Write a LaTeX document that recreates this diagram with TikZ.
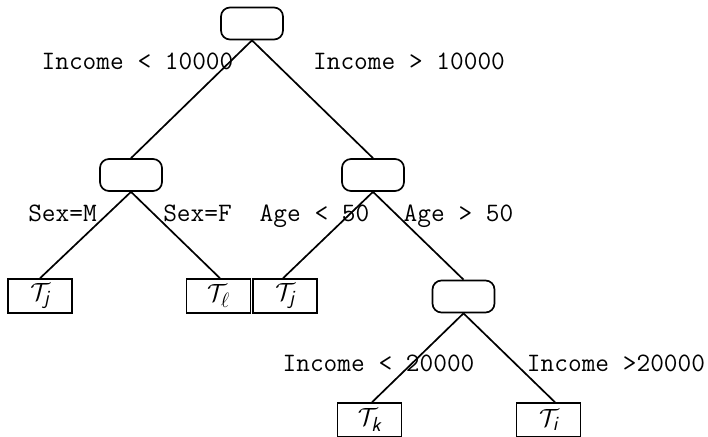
\documentclass[tikz,border=0pt]{standalone}
\usepackage{amsmath}
\usetikzlibrary{calc}
\tikzset{
  inner/.style={draw, line width=1.7pt, rounded corners=9pt, minimum width=62pt, minimum height=32pt, inner sep=0pt},
  leaf/.style={draw, line width=1.5pt, minimum width=64pt, minimum height=34pt, inner sep=0pt, font=\fontsize{29}{32}\selectfont},
  lbl/.style={anchor=base, inner sep=0pt, font=\fontsize{26.6}{30}\selectfont\ttfamily},
  edge/.style={line width=1.7pt}
}
\newcommand{\sub}[1]{\text{\sffamily\itshape #1}}
\begin{document}
\begin{tikzpicture}[x=1pt,y=-1pt]
\useasboundingbox (0,0) rectangle (708,436);
\node[inner] (r) at (252,23.5) {};
\node[inner] (a) at (131,175) {};
\node[inner] (b) at (373,175) {};
\node[inner] (c) at (463.5,296.5) {};
\node[leaf] (t1) at (40,296) {$\mathcal{T}_{\sub{j}}$};
\node[leaf] (t2) at (218.5,296) {$\mathcal{T}_{\ell}$};
\node[leaf] (t3) at (285,296) {$\mathcal{T}_{\sub{j}}$};
\node[leaf] (t4) at (369.5,420) {$\mathcal{T}_{\sub{k}}$};
\node[leaf] (t5) at (548.5,420) {$\mathcal{T}_{\sub{i}}$};
\draw[edge] (r.south) -- (a.north);
\draw[edge] (r.south) -- (b.north);
\draw[edge] (a.south) -- (t1.north);
\draw[edge] (a.south) -- ([xshift=1.5pt]t2.north);
\draw[edge] (b.south) -- ([xshift=-2pt]t3.north);
\draw[edge] (b.south) -- (c.north);
\draw[edge] (c.south) -- ([xshift=2.5pt]t4.north);
\draw[edge] (c.south) -- ([xshift=6.5pt]t5.north);
\node[lbl] (l1) at (137.5,69) {Income < 10000};
\node[lbl] (l2) at (409,69) {Income > 10000};
\node[lbl] (l3) at (62.5,221) {Sex=M};
\node[lbl] (l4) at (197.5,221) {Sex=F};
\node[lbl] (l5) at (314.5,221) {Age < 50};
\node[lbl] (l6) at (458.5,221) {Age > 50};
\node[lbl] (l7) at (378.5,371) {Income < 20000};
\node[lbl] (l8) at (616,371) {Income >20000};
\end{tikzpicture}
\end{document}
